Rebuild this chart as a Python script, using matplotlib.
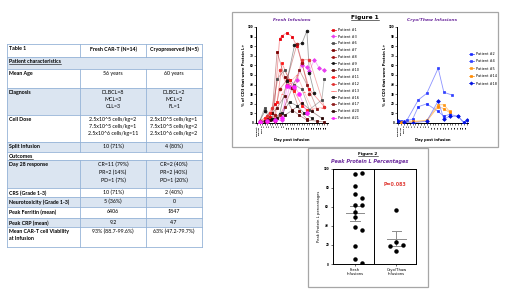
import numpy as np
import matplotlib
matplotlib.use('Agg')
import matplotlib.pyplot as plt
from matplotlib.patches import Rectangle

# ---- table 1 ----
table_labels = ["Table 1", "Patient characteristics", "Mean Age", "Diagnosis", "Cell Dose",
                "Split Infusion", "Outcomes", "Day 28 response", "CRS (Grade 1-3)",
                "Neurotoxicity (Grade 1-3)", "Peak Ferritin (mean)", "Peak CRP (mean)",
                "Mean CAR-T cell Viability\nat Infusion"]
fresh_col = ["Fresh CAR-T (N=14)", "", "56 years", "DLBCL=8\nMCL=3\nCLL=3",
             "2.5x10^5 cells/kg=2\n7.5x10^5 cells/kg=1\n2.5x10^6 cells/kg=11",
             "10 (71%)", "", "CR=11 (79%)\nPR=2 (14%)\nPD=1 (7%)", "10 (71%)", "5 (36%)",
             "6406", "9.2", "93% (88.7-99.6%)"]
cryo_col = ["Cryopreserved (N=5)", "", "60 years", "DLBCL=2\nMCL=2\nFL=1",
            "2.5x10^5 cells/kg=1\n7.5x10^5 cells/kg=2\n2.5x10^6 cells/kg=2",
            "4 (80%)", "", "CR=2 (40%)\nPR=2 (40%)\nPD=1 (20%)", "2 (40%)", "0",
            "1847", "4.7", "63% (47.2-79.7%)"]
section_rows = [1, 6]

# ---- figure 1: fresh infusions ----
fresh_ticks = ["Product", "Pre-LD", "Day 0", "1", "2", "3", "4", "5", "6", "7", "8", "9",
               "10", "11", "12", "13", "14", "15", "16", "17", "18", "19", "20", "21",
               "22", "23", "24", "25", "26"]
fresh_names = ["Patient #1", "Patient #3", "Patient #6", "Patient #7", "Patient #8",
               "Patient #9", "Patient #10", "Patient #11", "Patient #12", "Patient #13",
               "Patient #16", "Patient #17", "Patient #20", "Patient #21"]
fresh_idx = [
    [1, 3, 5, 7, 9, 10, 12, 14, 16, 18, 21, 27],
    [1, 4, 7, 10, 13, 16, 18, 20, 21, 23, 25, 27],
    [1, 3, 6, 8, 11, 13, 15, 18, 21, 26, 27],
    [1, 4, 6, 8, 11, 14, 17, 20],
    [1, 4, 7, 9, 12, 16, 18, 21],
    [1, 3, 6, 9, 12, 15, 18, 20, 21, 23],
    [1, 4, 6, 8, 11, 14, 17, 20, 24, 27],
    [1, 3, 5, 8, 10, 13, 15, 18, 20],
    [1, 4, 6, 9, 12, 15, 18, 21, 27],
    [1, 4, 7, 10, 13, 16, 19, 22, 26],
    [1, 4, 7, 10, 13, 16, 19, 22],
    [1, 4, 7, 9, 11, 14, 17, 20, 24],
    [1, 3, 5, 8, 11, 14, 18, 22, 26],
    [1, 4, 7, 10, 12, 15, 17, 20],
]
fresh_vals = [
    [1, 2, 6, 20, 88, 91, 94, 90, 80, 62, 35, 17],
    [0, 1, 2, 3, 38, 45, 60, 58, 54, 66, 57, 55],
    [2, 16, 4, 46, 55, 45, 40, 35, 14, 24, 46],
    [1, 3, 10, 74, 48, 36, 13, 4],
    [0, 2, 8, 35, 45, 82, 63, 30],
    [2, 12, 4, 9, 44, 81, 83, 96, 52, 31],
    [1, 4, 10, 16, 28, 14, 8, 3, 2, 1],
    [1, 5, 10, 22, 62, 45, 33, 18, 14],
    [2, 7, 16, 55, 40, 35, 66, 66, 17],
    [0, 3, 6, 30, 42, 50, 32, 15, 16],
    [1, 2, 4, 10, 22, 18, 10, 5],
    [1, 1, 2, 8, 17, 36, 55, 40, 15],
    [0, 2, 3, 5, 8, 13, 21, 12, 5],
    [1, 2, 3, 5, 39, 38, 30, 10],
]
fresh_colors = ["#e8000b", "#e83cf0", "#4a4a4a", "#7a0000", "#9c1010", "#111111", "#5a0a0a",
                "#ff1a1a", "#e03030", "#ff7070", "#1a1a1a", "#8b1a1a", "#2a0505", "#ff20ff"]
fresh_markers = ["s", "D", "s", "s", "o", "o", "s", "s", "o", "_", "s", "s", "s", "o"]

# ---- figure 1: cryo/thaw infusions ----
cryo_ticks = ["Product", "Pre-LD", "Day 0", "1", "2", "3", "4", "5", "6", "7", "8", "9",
              "10", "11", "12", "13", "14", "15", "16", "17", "18", "19", "20", "21", "22"]
cryo_names = ["Patient #2", "Patient #4", "Patient #5", "Patient #14", "Patient #18"]
cryo_idx = [
    [1, 5, 7, 10, 14, 16, 18, 21, 23],
    [1, 3, 7, 10, 14, 16, 19],
    [1, 5, 10, 14, 16, 18],
    [1, 5, 10, 14, 16, 18],
    [0, 2, 5, 10, 14, 16, 18, 21, 23, 24],
]
cryo_vals = [
    [1, 4, 17, 20, 12, 7, 9, 7, 1],
    [2, 3, 24, 31, 57, 32, 29],
    [0, 1, 3, 19, 19, 12],
    [1, 2, 2, 17, 15, 11],
    [2, 1, 0, 2, 23, 4, 7, 7, 0, 3],
]
cryo_colors = ["#1a2bff", "#3040ff", "#ff9a1a", "#ff8a00", "#0010e0"]
cryo_lines = ["#7480ff", "#6f78ff", "#ffb860", "#ffb050", "#7480ff"]
cryo_markers = ["s", "s", "s", "s", "D"]

# ---- figure 2 ----
groups = ["Fresh\nInfusions", "Cryo/Thaw\nInfusions"]
peak_fresh = [95, 96, 82, 74, 70, 62, 62, 55, 49, 39, 36, 19, 5, 1]
peak_cryo = [57, 23, 20, 19, 14]
p_text = "P=0.083"

W, H = 520, 292
fig = plt.figure(figsize=(W / 100, H / 100), dpi=100)
bg = fig.add_axes([0, 0, 1, 1])
bg.set_xlim(0, W)
bg.set_ylim(H, 0)
bg.axis('off')


def px_axes(l, t, r, b):
    return fig.add_axes([l / W, 1 - b / H, (r - l) / W, (b - t) / H])


tfont = "Lato"
blue_line = "#95b3d7"
row_edges = [44, 57, 69, 88, 115, 142, 152, 160, 188, 197, 207, 218, 227, 247]
cols = [7, 80, 146, 202]
underlines = []
for i, lab in enumerate(table_labels):
    top, bot = row_edges[i], row_edges[i + 1]
    if i % 2 == 1:
        bg.add_patch(Rectangle((cols[0], top), cols[3] - cols[0], bot - top,
                               fc="#dbe5f1", ec="none"))
    bg.plot([cols[0], cols[3]], [top, top], color=blue_line, lw=0.6)
    if i not in section_rows:
        for cx in cols[1:3]:
            bg.plot([cx, cx], [top, bot], color=blue_line, lw=0.6)
    t = bg.text(cols[0] + 2, top + 2.2, lab, fontsize=3.8, fontweight="bold",
                family=tfont, va="top", ha="left", linespacing=1.5)
    if i in section_rows:
        underlines.append(t)
    bold = i == 0
    for j, val in enumerate([fresh_col[i], cryo_col[i]]):
        xc = (cols[j + 1] + cols[j + 2]) / 2
        bg.text(xc, top + 2.2, val, fontsize=3.8, family=tfont, va="top", ha="center",
                multialignment="center", linespacing=1.5,
                fontweight="bold" if bold else "normal")
bg.plot([cols[0], cols[3]], [row_edges[-1], row_edges[-1]], color=blue_line, lw=0.6)
for cx in [cols[0], cols[3]]:
    bg.plot([cx, cx], [row_edges[0], row_edges[-1]], color=blue_line, lw=0.6)

# frames
bg.add_patch(Rectangle((232, 12), 266, 135, fc="white", ec="#a6a6a6", lw=0.9))
bg.add_patch(Rectangle((308, 148), 120, 139, fc="white", ec="#a6a6a6", lw=0.9))
underlines.append(bg.text(365, 18, "Figure 1", fontsize=4.2, fontweight="bold",
                          ha="center", va="center"))
underlines.append(bg.text(368, 154, "Figure 2", fontsize=3.0, fontweight="bold",
                          ha="center", va="center"))
bg.text(370, 161.5, "Peak Protein L Percentages", fontsize=3.6, fontweight="bold",
        style="italic", color="#7030a0", ha="center", va="center")


def gp_axes(ax, ticks):
    ax.set_ylim(0, 100)
    ax.set_xlim(-0.5, len(ticks) - 0.5)
    for s in ["top", "right"]:
        ax.spines[s].set_visible(False)
    for s in ["left", "bottom"]:
        ax.spines[s].set_linewidth(0.7)
    ax.set_yticks(range(0, 101, 10))
    ax.set_yticklabels([str(v) for v in range(0, 101, 10)], fontsize=2.0, fontweight="bold")
    ax.set_xticks(range(len(ticks)))
    ax.set_xticklabels(ticks, rotation=90, fontsize=1.7, fontweight="bold")
    ax.tick_params(length=1.3, width=0.4, pad=0.6)
    ax.set_ylabel("% of CD3 that were Protein L+", fontsize=2.6, fontweight="bold", labelpad=1.5)
    ax.set_xlabel("Day post infusion", fontsize=2.6, fontweight="bold", labelpad=1.5)
    ax.patch.set_alpha(0)


ax1 = px_axes(256, 27, 328, 123)
gp_axes(ax1, fresh_ticks)
for name, xi, yv, c, m in zip(fresh_names, fresh_idx, fresh_vals, fresh_colors, fresh_markers):
    ax1.plot(xi, yv, color=c, alpha=0.4, lw=0.6, zorder=2)
    ax1.plot(xi, yv, ls="none", marker=m, ms=1.9 if name != "Patient #21" else 2.6,
             color=c, mew=0.6, zorder=3)
    ax1.plot([], [], color=c, lw=0.5, marker=m, ms=1.6, mew=0.5, label=name)
ax1.set_title("Fresh Infusions", fontsize=3.2, fontweight="bold", style="italic",
              color="#7030a0", pad=4)
ax1.legend(loc="upper left", bbox_to_anchor=(329 / W, 1 - 26 / H), bbox_transform=fig.transFigure,
           frameon=False, fontsize=2.5, handlelength=1.4, handletextpad=0.6, labelspacing=0.8,
           borderpad=0)

ax2 = px_axes(397, 27, 468, 123)
gp_axes(ax2, cryo_ticks)
for name, xi, yv, c, lc, m in zip(cryo_names, cryo_idx, cryo_vals, cryo_colors, cryo_lines,
                                  cryo_markers):
    ax2.plot(xi, yv, color=lc, alpha=0.8, lw=0.6, zorder=2)
    ax2.plot(xi, yv, ls="none", marker=m, ms=1.9, color=c, mew=0.5, zorder=3)
    ax2.plot([], [], color=c, lw=0.5, marker=m, ms=1.6, mew=0.5, label=name)
ax2.set_title("Cryo/Thaw Infusions", fontsize=3.2, fontweight="bold", style="italic",
              color="#7030a0", pad=4)
ax2.legend(loc="upper left", bbox_to_anchor=(467 / W, 1 - 50 / H), bbox_transform=fig.transFigure,
           frameon=False, fontsize=2.5, handlelength=1.4, handletextpad=0.6, labelspacing=1.0,
           borderpad=0)


def swarm(vals, tol=5.0, step=0.16):
    # spread points sideways when they would overlap
    placed = []
    offs = []
    for v in vals:
        for c in [0, step, -step, 2 * step, -2 * step]:
            if all(abs(pv - v) >= tol or abs(po - c) > 1e-9 for pv, po in placed):
                break
        placed.append((v, c))
        offs.append(c)
    return np.array(offs)


ax3 = px_axes(333, 169, 416, 264)
ax3.set_xlim(0.5, 2.5)
ax3.set_ylim(0, 100)
for k, data in enumerate([peak_fresh, peak_cryo]):
    xc = k + 1.03
    d = np.array(data, dtype=float)
    ax3.plot(xc + swarm(d), d, "o", color="black", ms=2.2, zorder=3)
    m = d.mean()
    sem = d.std(ddof=1) / np.sqrt(len(d))
    ax3.plot([xc - 0.22, xc + 0.22], [m, m], color="#8c8c8c", lw=0.7, zorder=2)
    ax3.plot([xc, xc], [m - sem, m + sem], color="#8c8c8c", lw=0.7, zorder=2)
    for yy in [m - sem, m + sem]:
        ax3.plot([xc - 0.11, xc + 0.11], [yy, yy], color="#8c8c8c", lw=0.7, zorder=2)
ax3.axvline(1.5, color="black", lw=0.7)
for s in ax3.spines.values():
    s.set_linewidth(0.7)
ax3.set_yticks(range(0, 101, 20))
ax3.set_yticklabels([str(v) for v in range(0, 101, 20)], fontsize=2.0, fontweight="bold")
ax3.set_xticks([1.03, 2.03])
ax3.set_xticklabels(groups, fontsize=2.7)
ax3.tick_params(length=1.3, width=0.4, pad=1.5)
ax3.set_ylabel("Peak Protein L percentages", fontsize=2.7, labelpad=2)
ax3.text(2.0, 84, p_text, color="#e0403a", fontsize=3.4, fontweight="bold", ha="center", va="center")

# underline a few headings
fig.canvas.draw()
r = fig.canvas.get_renderer()
inv = bg.transData.inverted()
for t in underlines:
    bb = t.get_window_extent(r)
    (x0, y0), (x1, y1) = inv.transform([[bb.x0, bb.y0], [bb.x1, bb.y1]])
    bg.plot([x0, x1], [y0 - 0.2, y0 - 0.2], color="black", lw=0.4)

fig.savefig("out.png", dpi=100)
